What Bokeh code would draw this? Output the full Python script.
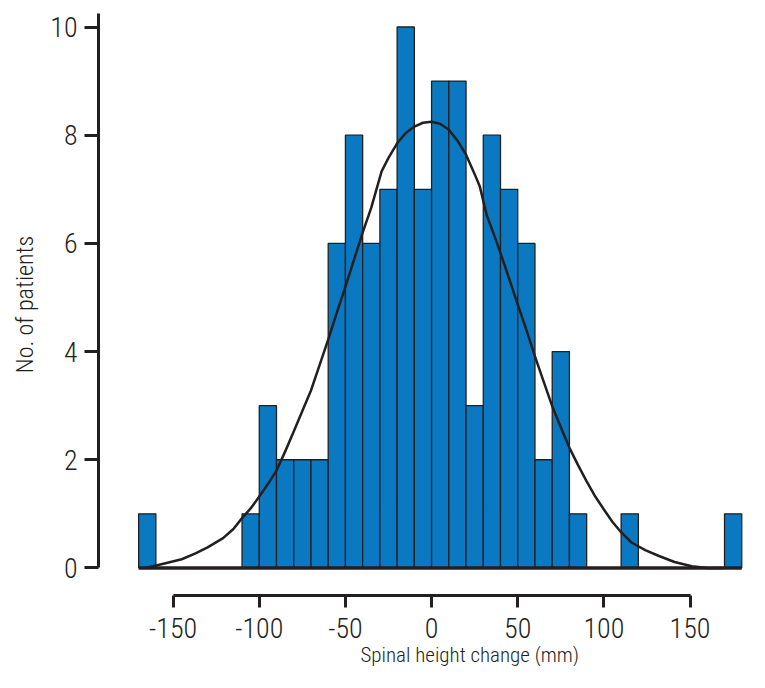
from bokeh.plotting import figure
from bokeh.models import Range1d, FixedTicker, ColumnDataSource, Title
from bokeh.embed import file_html
from bokeh.resources import INLINE

# ---- data ----
bin_start = [-170, -160, -150, -140, -130, -120, -110, -100, -90, -80, -70, -60,
             -50, -40, -30, -20, -10, 0, 10, 20, 30, 40, 50, 60, 70, 80, 90,
             100, 110, 120, 130, 140, 150, 160, 170]
counts = [1, 0, 0, 0, 0, 0, 1, 3, 2, 2, 2, 6,
          8, 6, 7, 10, 7, 9, 9, 3, 8, 7, 6, 2, 4, 1, 0,
          0, 1, 0, 0, 0, 0, 0, 1]
bin_width = 10

# fitted curve
curve_x = [-166, -155, -145, -137, -130, -121, -115, -110, -105, -100, -95, -90,
           -85, -80, -75, -70, -65, -60, -55, -50, -45, -40, -35, -29, -25,
           -20, -15, -10, -5, 0, 5, 10, 15, 20, 25, 28, 32, 36, 40, 45, 50,
           55, 60, 65, 70, 75, 80, 85, 90, 95, 100, 105, 110, 116, 124, 132,
           141, 151, 160, 169]
curve_y = [0.00, 0.08, 0.16, 0.27, 0.38, 0.55, 0.72, 0.92, 1.10, 1.32, 1.55, 1.80,
           2.15, 2.52, 2.90, 3.28, 3.75, 4.22, 4.72, 5.20, 5.70, 6.20, 6.66, 7.33, 7.58,
           7.85, 8.04, 8.16, 8.23, 8.25, 8.21, 8.10, 7.90, 7.64, 7.28, 7.05, 6.52, 6.18, 5.82, 5.35, 4.87,
           4.40, 3.91, 3.45, 2.99, 2.60, 2.22, 1.90, 1.60, 1.32, 1.08, 0.85, 0.66, 0.47, 0.33, 0.22,
           0.11, 0.03, 0.00, 0.00]

x_ticks = [-150, -100, -50, 0, 50, 100, 150]
y_ticks = [0, 2, 4, 6, 8, 10]
x_title = "Spinal height change (mm)"
y_title = "No. of patients"

FONT = "'Roboto Condensed Light', 'Roboto Condensed', 'Liberation Sans Narrow', sans-serif"
INK = "#231f20"
BLUE = "#0a79c1"

left = [b for b, c in zip(bin_start, counts) if c > 0]
right = [b + bin_width for b, c in zip(bin_start, counts) if c > 0]
top = [c for c in counts if c > 0]
src = ColumnDataSource(dict(left=left, right=right, top=top, bottom=[0] * len(top)))

p = figure(frame_width=646, frame_height=582,
           x_range=Range1d(-193.3, 181.6), y_range=Range1d(-0.51, 10.25),
           output_backend="svg", toolbar_location=None,
           min_border_left=98, min_border_top=13, min_border_right=2,
           min_border_bottom=10)
p.background_fill_color = "white"
p.border_fill_color = "white"
p.outline_line_color = None
p.grid.visible = False

p.quad(left="left", right="right", top="top", bottom="bottom", source=src,
       fill_color=BLUE, line_color=INK, line_width=1.3)

p.line(x=[bin_start[0], bin_start[-1] + bin_width], y=[0, 0],
       line_color=INK, line_width=3.5)

p.line(x=curve_x, y=curve_y, line_color=INK, line_width=2.5, line_join="round")

for ax in (p.xaxis, p.yaxis):
    ax.axis_line_color = INK
    ax.axis_line_width = 3
    ax.major_tick_line_color = INK
    ax.major_tick_line_width = 3
    ax.major_tick_in = 0
    ax.minor_tick_line_color = None
    ax.major_label_text_font = FONT
    ax.major_label_text_color = INK
    ax.major_label_text_font_size = "28px"
    ax.axis_label_text_font = FONT
    ax.axis_label_text_font_style = "normal"
    ax.axis_label_text_color = INK

p.xaxis.ticker = FixedTicker(ticks=x_ticks)
p.yaxis.ticker = FixedTicker(ticks=y_ticks)
p.xaxis.major_label_overrides = {t: str(t) for t in x_ticks}
p.yaxis.major_label_overrides = {t: str(t) for t in y_ticks}
p.xaxis.bounds = (x_ticks[0], x_ticks[-1])
p.yaxis.bounds = (0, 10.25)
p.xaxis.major_tick_out = 12
p.yaxis.major_tick_out = 14
p.xaxis.major_label_standoff = 10
p.yaxis.major_label_standoff = 7
p.yaxis.axis_label = y_title
p.yaxis.axis_label_text_font_size = "24px"
p.yaxis.axis_label_standoff = 8

# x-axis title, sitting slightly right of the axis centre as in the reference
p.add_layout(Title(text=x_title, align="left", offset=262, standoff=0,
                   text_font=FONT, text_font_size="21px",
                   text_font_style="normal", text_color=INK), "below")

open("out.html", "w").write(file_html(p, INLINE))
